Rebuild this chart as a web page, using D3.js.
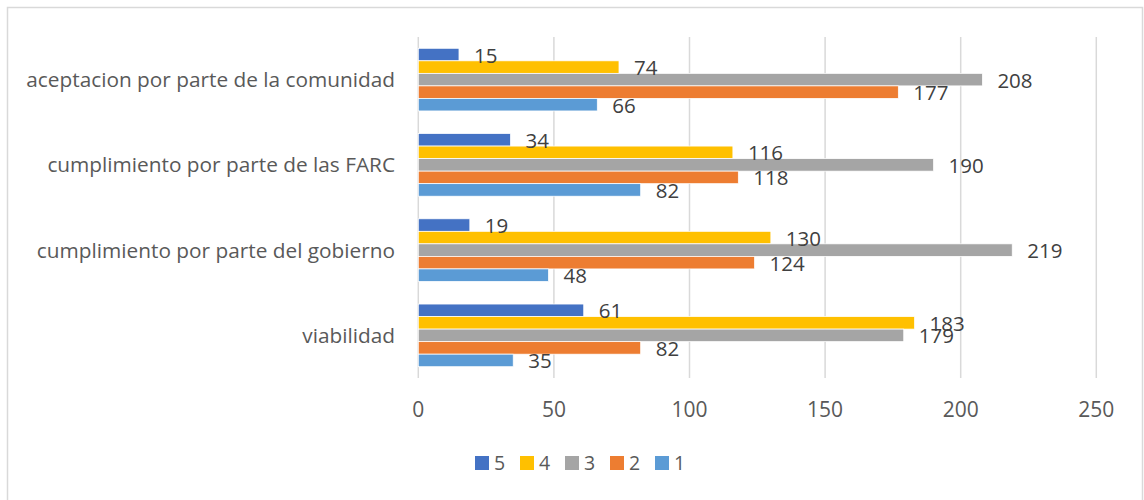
<!DOCTYPE html>
<html>
<head>
<meta charset="utf-8">
<script src="https://cdn.jsdelivr.net/npm/d3@7"></script>
<style>
  html, body { margin: 0; padding: 0; background: #fff; }
  svg { display: block; font-family: "Open Sans", "Noto Sans", sans-serif; }
</style>
</head>
<body>
<svg id="chart" width="1144" height="500"></svg>
<script>
// Categories, top to bottom as drawn on the axis
const categories = [
  "aceptacion por parte de la comunidad",
  "cumplimiento por parte de las FARC",
  "cumplimiento por parte del gobierno",
  "viabilidad"
];
// Series names in drawing order within each group (top to bottom)
const seriesNames = ["5", "4", "3", "2", "1"];
const series5 = [15, 34, 19, 61];
const series4 = [74, 116, 130, 183];
const series3 = [208, 190, 219, 179];
const series2 = [177, 118, 124, 82];
const series1 = [66, 82, 48, 35];
const seriesColors = ["#4472C4", "#FFC000", "#A5A5A5", "#ED7D31", "#5B9BD5"];
const xTicks = [0, 50, 100, 150, 200, 250];

const seriesValues = [series5, series4, series3, series2, series1];

const svg = d3.select("#chart");
const textColor = "#595959";
const gridColor = "#D9D9D9";

// Chart frame
svg.append("rect")
  .attr("x", 7.5).attr("y", 7.5)
  .attr("width", 1135).attr("height", 500)
  .attr("fill", "#fff")
  .attr("stroke", gridColor).attr("stroke-width", 1.5);

const plot = { left: 418.3, right: 1096.3, top: 37, bottom: 378 };

const x = d3.scaleLinear().domain([0, 250]).range([plot.left, plot.right]);
const y = d3.scaleBand().domain(categories)
  .range([plot.top, plot.bottom])
  .paddingInner(0.265).paddingOuter(0.1325);
const ySub = d3.scaleBand().domain(seriesNames).range([0, y.bandwidth()]);

// Vertical gridlines
svg.append("g").selectAll("line").data(xTicks).join("line")
  .attr("x1", d => x(d)).attr("x2", d => x(d))
  .attr("y1", plot.top).attr("y2", plot.bottom)
  .attr("stroke", gridColor).attr("stroke-width", 1.5);

// X tick labels
svg.append("g").selectAll("text").data(xTicks).join("text")
  .attr("x", d => x(d)).attr("y", 416.7)
  .attr("text-anchor", "middle")
  .attr("font-size", 21).attr("fill", textColor)
  .text(d => d);

// Category labels
svg.append("g").selectAll("text").data(categories).join("text")
  .attr("x", 395).attr("y", d => y(d) + y.bandwidth() / 2 + 7.5)
  .attr("text-anchor", "end")
  .attr("font-size", 20.8).attr("fill", textColor)
  .text(d => d);

// Bars and value labels
const rows = [];
categories.forEach((c, i) => {
  seriesNames.forEach((s, j) => {
    rows.push({ cat: c, s, v: seriesValues[j][i], color: seriesColors[j] });
  });
});

svg.append("g").selectAll("rect").data(rows).join("rect")
  .attr("x", x(0))
  .attr("y", d => y(d.cat) + ySub(d.s))
  .attr("width", d => x(d.v) - x(0))
  .attr("height", ySub.bandwidth())
  .attr("fill", d => d.color)
  .attr("stroke", "#fff").attr("stroke-width", 0.75);

svg.append("g").selectAll("text").data(rows).join("text")
  .attr("x", d => x(d.v) + 15)
  .attr("y", d => y(d.cat) + ySub(d.s) + ySub.bandwidth() / 2 + 8)
  .attr("font-size", 20.5).attr("fill", "#404040")
  .text(d => d.v);

// Legend
const legend = svg.append("g").selectAll("g").data(seriesNames).join("g")
  .attr("transform", (d, i) => `translate(${475 + i * 45},456)`);
legend.append("rect")
  .attr("width", 14).attr("height", 14)
  .attr("fill", (d, i) => seriesColors[i]);
legend.append("text")
  .attr("x", 19).attr("y", 14)
  .attr("font-size", 19.5).attr("fill", textColor)
  .text(d => d);
</script>
</body>
</html>
